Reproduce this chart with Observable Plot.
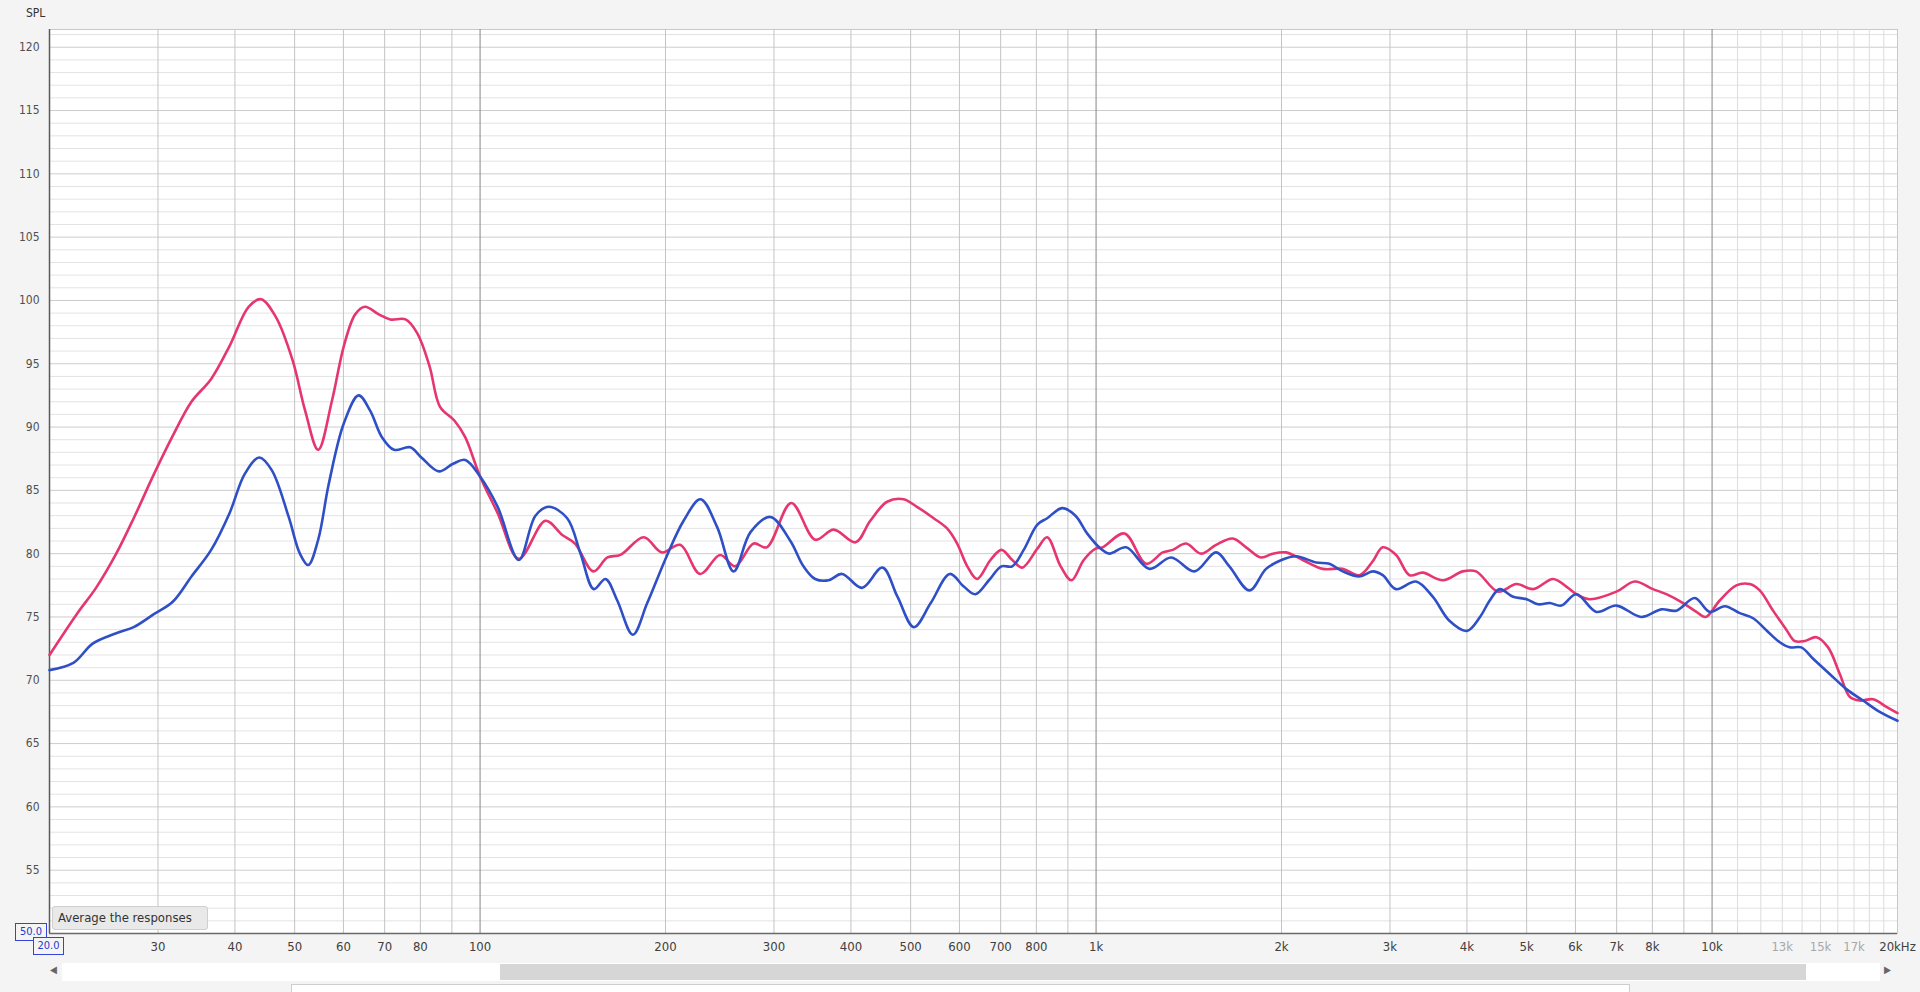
<!DOCTYPE html>
<html>
<head>
<meta charset="utf-8">
<script src="https://cdn.jsdelivr.net/npm/d3@7"></script>
<script src="https://cdn.jsdelivr.net/npm/@observablehq/plot@0.6"></script>
<style>
  html, body { margin: 0; padding: 0; }
  body { width: 1920px; height: 992px; background: #f4f4f4; position: relative; overflow: hidden;
         font-family: "DejaVu Sans Condensed", "DejaVu Sans", sans-serif; font-stretch: condensed; }
  #chart { position: absolute; left: 0; top: 0; }
  #chart svg text { font-stretch: condensed; }
  .ov { position: absolute; box-sizing: border-box; }
</style>
</head>
<body>
<div id="chart"></div>
<div class="ov" style="left:26px;top:6px;font-size:12px;color:#333;">SPL</div>
<div class="ov" style="left:52px;top:906px;width:156px;height:24px;background:#e9e9e9;border:1px solid #cfcfcf;border-radius:3px;font-size:13px;color:#333;line-height:22px;padding-left:5px;">Average the responses</div>
<div class="ov" style="left:15px;top:923px;width:32px;height:18px;border:1px solid #3443d8;background:#f4f4f4;color:#2a39c9;font-size:11px;line-height:16px;text-align:center;">50.0</div>
<div class="ov" style="left:33px;top:937px;width:31px;height:18px;border:1px solid #3443d8;background:#f4f4f4;color:#2a39c9;font-size:11px;line-height:16px;text-align:center;">20.0</div>
<div class="ov" style="left:62px;top:963px;width:1818px;height:18px;background:#ffffff;"></div>
<div class="ov" style="left:500px;top:964px;width:1306px;height:16px;background:#d6d6d6;"></div>
<div class="ov" style="left:50px;top:964px;font-size:10px;color:#666;">&#9664;</div>
<div class="ov" style="left:1884px;top:964px;font-size:10px;color:#666;">&#9654;</div>
<div class="ov" style="left:291px;top:984px;width:1339px;height:30px;background:#ffffff;border:1px solid #cdcdcd;"></div>
<script>
// ---- data ----
const redFreq = [20,22.2,23.8,25.6,27.4,29.5,31.7,34.0,36.6,39.2,42.1,44.1,46.6,49.6,52.0,54.6,57.5,60.1,62.7,65.0,68.5,71.5,75.7,79.1,82.8,86.1,90.9,94.6,100,106.8,115.6,127.7,135.8,142.6,152.7,161,169,184.4,197.3,211.3,227.6,245.3,259.5,278,292,320,350,375,407,430,458,487,512,545,573,595,618,641,674,702,731,759,803,833,876,912,955,998,1025,1112,1206,1283,1332,1400,1481,1566,1667,1752,1853,1935,2034,2165,2333,2514,2676,2813,2920,3069,3227,3391,3654,3937,4139,4494,4814,5122,5520,5800,6022,6330,6994,7490,8020,8430,8974,9432,9765,10290,10950,11510,11950,12560,13200,13620,14140,14770,15430,16120,16730,17370,18250,19190,20000];
const redSpl  = [72.0,75.3,77.3,79.9,82.8,86.2,89.3,92.0,93.8,96.4,99.5,100.1,98.7,95.3,91.3,88.2,92.1,96.4,98.9,99.5,98.9,98.5,98.5,97.4,94.8,91.6,90.5,89.2,86.1,83.2,79.6,82.6,81.5,80.8,78.6,79.7,79.9,81.3,80.1,80.7,78.4,79.9,79.0,80.8,80.5,84.0,81.1,81.9,80.9,82.6,84.1,84.3,83.7,82.8,82.0,80.8,79.0,78.0,79.5,80.3,79.5,78.9,80.4,81.3,79.0,77.9,79.5,80.4,80.5,81.6,79.2,80.1,80.3,80.8,80.0,80.7,81.2,80.5,79.7,80.0,80.1,79.5,78.8,78.8,78.3,79.4,80.5,79.9,78.3,78.5,77.9,78.6,78.6,77.0,77.6,77.2,78.0,77.4,76.8,76.4,77.0,77.8,77.2,76.8,76.1,75.4,75.0,76.3,77.5,77.6,77.1,75.5,74.0,73.1,73.1,73.4,72.6,70.5,68.7,68.4,68.5,67.9,67.4];
const blueFreq = [20,21.9,23.5,25.6,27.4,29.5,31.7,34.0,36.6,39.2,41.5,43.8,45.9,48.9,51.0,52.6,54.6,56.8,60.1,63.5,66.3,69.3,72.5,77.0,80.3,85.7,90.4,94.6,100,106.8,115.6,123,129.3,138.5,145.6,153,159.8,167,177,186.8,201.3,214,228,242.6,258,274.8,296,319,335,350,368,387,417,450,476,506,539,579,610,637,670,702,731,763,803,833,881,926,967,1017,1051,1119,1221,1324,1444,1566,1646,1774,1888,2000,2112,2276,2392,2514,2676,2813,2920,3069,3307,3520,3746,4000,4200,4356,4520,4753,5000,5218,5450,5690,6022,6490,6994,7677,8272,8752,9374,9913,10490,11090,11660,12250,12880,13370,13960,14590,15520,16520,17580,18710,20000];
const blueSpl  = [70.8,71.4,72.9,73.7,74.2,75.2,76.2,78.2,80.3,83.2,86.3,87.6,86.6,82.9,80.0,79.1,81.1,85.5,90.3,92.5,91.3,89.2,88.2,88.4,87.6,86.5,87.1,87.4,86.1,83.7,79.5,83.0,83.7,82.8,80.0,77.2,78.0,76.3,73.6,76.1,79.9,82.6,84.3,82.1,78.6,81.7,82.9,81.0,79.0,78.0,77.9,78.4,77.3,78.9,76.6,74.2,76.1,78.4,77.4,76.8,77.9,79.0,79.0,80.3,82.3,82.8,83.6,83.0,81.6,80.4,80.0,80.5,78.8,79.7,78.6,80.1,79.0,77.1,78.8,79.5,79.8,79.3,79.2,78.6,78.2,78.6,78.3,77.2,77.8,76.6,74.7,73.9,75.0,76.3,77.2,76.6,76.4,76.0,76.1,75.9,76.8,75.4,75.9,75.0,75.6,75.5,76.5,75.4,75.85,75.3,74.9,73.95,73.0,72.6,72.6,71.7,70.5,69.3,68.4,67.5,66.8];

const xTicks = [30,40,50,60,70,80,90,100,200,300,400,500,600,700,800,900,1000,2000,3000,4000,5000,6000,7000,8000,9000,10000,20000];
const xTickLabels = ["30","40","50","60","70","80","90","100","200","300","400","500","600","700","800","900","1k","2k","3k","4k","5k","6k","7k","8k","9k","10k","20kHz"];
const xFaintTicks = [13000,15000,17000];
const xFaintLabels = ["13k","15k","17k"];
const yTicks = [55,60,65,70,75,80,85,90,95,100,105,110,115,120];

// grid positions
const gridMinorX = [30,40,50,60,70,80,90,200,300,400,500,600,700,800,900,2000,3000,4000,5000,6000,7000,8000,9000];
const gridDecadeX = [100,1000,10000];
const gridFaintX = [11000,12000,13000,14000,15000,16000,17000,18000,19000];
const gridMinorY = d3.range(51,122).filter(v => v % 5 !== 0);
const gridMajorY = d3.range(55,121,5);

const red = redFreq.map((f,i) => ({f, v: redSpl[i]}));
const blue = blueFreq.map((f,i) => ({f, v: blueSpl[i]}));

const font = '"DejaVu Sans Condensed", "DejaVu Sans", sans-serif';

const chart = Plot.plot({
  width: 1920,
  height: 992,
  marginLeft: 49,
  marginRight: 23,
  marginTop: 29,
  marginBottom: 59,
  style: {background: "transparent", fontFamily: font, fontSize: "12px", color: "#505050"},
  x: {type: "log", domain: [20, 20000], axis: null},
  y: {domain: [50, 121.4], axis: null},
  marks: [
    Plot.frame({fill: "#ffffff", stroke: "#c8c8c8"}),
    Plot.ruleY(gridMinorY, {stroke: "#e3e3e3", strokeWidth: 1}),
    Plot.ruleY(gridMajorY, {stroke: "#cdcdcd", strokeWidth: 1}),
    Plot.ruleY([121], {stroke: "#e3e3e3", strokeWidth: 1}),
    Plot.ruleX(gridFaintX, {stroke: "#dcdcdc", strokeWidth: 1}),
    Plot.ruleX(gridMinorX, {stroke: "#c4c4c4", strokeWidth: 1}),
    Plot.ruleX(gridDecadeX, {stroke: "#858585", strokeWidth: 1}),
    Plot.ruleX([20], {stroke: "#5a5a5a", strokeWidth: 1.5}),
    Plot.ruleY([50], {stroke: "#6a6a6a", strokeWidth: 1.5}),
    Plot.line(red, {x: "f", y: "v", stroke: "#e6366f", strokeWidth: 2.6, curve: "catmull-rom"}),
    Plot.line(blue, {x: "f", y: "v", stroke: "#2f4fc6", strokeWidth: 2.6, curve: "catmull-rom"}),
    Plot.axisX(xTicks, {anchor: "bottom", label: null, tickSize: 0, tickPadding: 8, fontSize: 13, fill: "#404040",
      tickFormat: d => xTickLabels[xTicks.indexOf(d)]}),
    Plot.axisX(xFaintTicks, {anchor: "bottom", label: null, tickSize: 0, tickPadding: 8, fontSize: 13, fill: "#a8a8a8",
      tickFormat: d => xFaintLabels[xFaintTicks.indexOf(d)]}),
    Plot.axisY(yTicks, {anchor: "left", label: null, tickSize: 0, tickPadding: 10, fontSize: 12, fill: "#505050"})
  ]
});
document.getElementById("chart").appendChild(chart);
</script>
</body>
</html>
